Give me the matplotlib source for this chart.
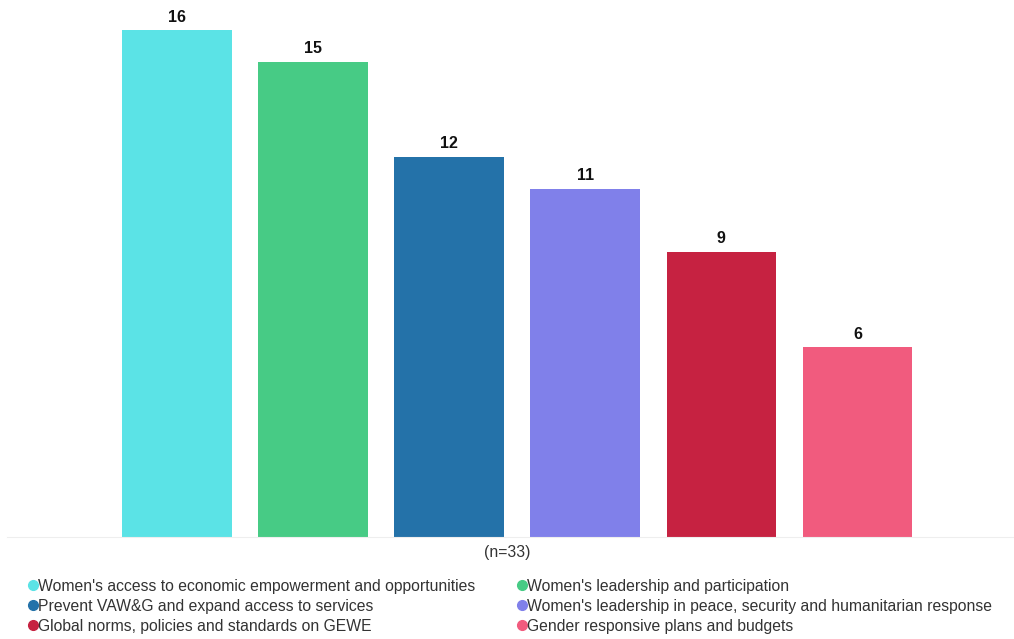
import matplotlib.pyplot as plt
from matplotlib.lines import Line2D

plt.rcParams['font.family'] = ['Liberation Sans', 'DejaVu Sans']

# data
categories = [
    "Women's access to economic empowerment and opportunities",
    "Women's leadership and participation",
    "Prevent VAW&G and expand access to services",
    "Women's leadership in peace, security and humanitarian response",
    "Global norms, policies and standards on GEWE",
    "Gender responsive plans and budgets",
]
values = [16, 15, 12, 11, 9, 6]
colors = ["#5BE3E6", "#47CB85", "#2472A9", "#8080EA", "#C62241", "#F15B7E"]
note = "(n=33)"

W, H = 1014, 639
fig = plt.figure(figsize=(W / 100, H / 100), dpi=100)
ax = fig.add_axes([7 / W, 1 - 537 / H, 1 - 7 / W, 537 / H])

x = range(len(values))
ax.bar(x, values, width=0.807, color=colors)
for i, v in enumerate(values):
    ax.text(i, v + 0.17, str(v), ha='center', va='bottom',
            fontsize=11.5, fontweight='bold', color='#111111')

ax.set_xlim(-1.25, len(values) - 1 + 1.15)
ax.set_ylim(0, 16.95)
for s in ['top', 'right', 'left']:
    ax.spines[s].set_visible(False)
ax.spines['bottom'].set_color('#eeeeee')
ax.set_xticks([])
ax.set_yticks([])

fig.text(507 / W, 1 - 553 / H, note, ha='center', va='center',
         fontsize=11.3, color='#333333')

# legend drawn by hand, two columns in row order
col_x = [33, 522]
row_y = [585, 605, 625]
for i, (lab, c) in enumerate(zip(categories, colors)):
    cx = col_x[i % 2]
    cy = row_y[i // 2]
    fig.add_artist(Line2D([cx / W], [1 - cy / H], marker='o', markersize=7,
                          color=c, transform=fig.transFigure))
    fig.text((cx + 5) / W, 1 - (cy + 1) / H, lab, ha='left', va='center',
             fontsize=11.3, color='#333333')

fig.savefig('out.png', dpi=100)
